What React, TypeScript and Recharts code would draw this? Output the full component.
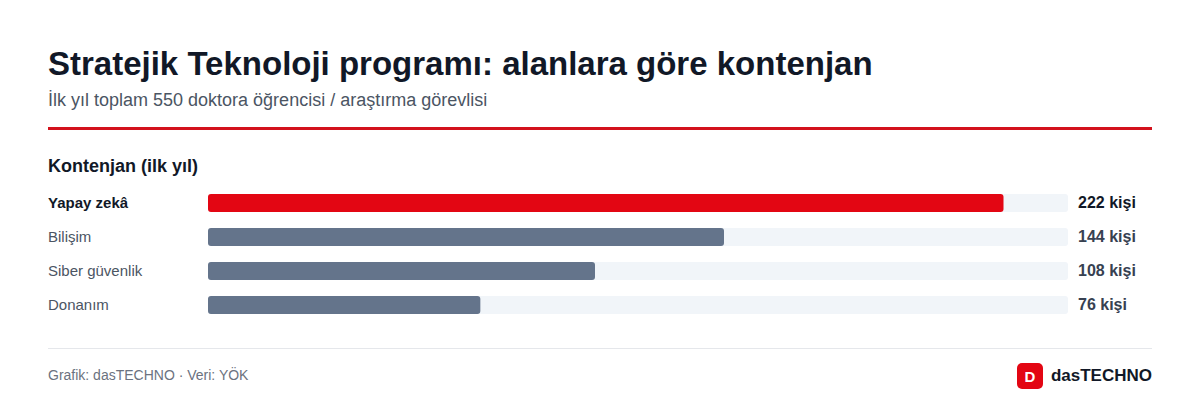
import React from "react"
import { BarChart, Bar, XAxis, YAxis, Cell } from "recharts"

const categories = ["Yapay zekâ", "Bilişim", "Siber güvenlik", "Donanım"]
const quotas = [222, 144, 108, 76]
const valueLabels = ["222 kişi", "144 kişi", "108 kişi", "76 kişi"]
const xDomain = [0, 240]

const data = categories.map((name, i) => ({
  name,
  value: quotas[i],
  label: valueLabels[i],
}))

const FONT = '"Liberation Sans", Arial, Helvetica, sans-serif'
const RED = "#e30613"
const SLATE = "#64748b"

function LeftTick(props: any) {
  const { y, payload } = props
  const first = payload.index === 0
  return (
    <text
      x={0}
      y={y}
      dy={5}
      textAnchor="start"
      fontFamily={FONT}
      fontSize={15}
      fontWeight={first ? 700 : 400}
      fill={first ? "#111827" : "#4b5563"}
    >
      {payload.value}
    </text>
  )
}

function RightTick(props: any) {
  const { x, y, payload } = props
  const first = payload.index === 0
  return (
    <text
      x={x}
      y={y}
      dy={5}
      textAnchor="start"
      fontFamily={FONT}
      fontSize={16}
      fontWeight={700}
      fill={first ? "#111827" : "#374151"}
    >
      {payload.value}
    </text>
  )
}

export default function App() {
  return (
    <div
      style={{
        position: "absolute",
        left: 0,
        top: 0,
        width: 1200,
        height: 420,
        background: "#fff",
        fontFamily: FONT,
        overflow: "hidden",
      }}
    >
      <div
        style={{
          position: "absolute",
          left: 48,
          top: 45,
          fontSize: 33,
          fontWeight: 700,
          color: "#111827",
          whiteSpace: "nowrap",
        }}
      >
        Stratejik Teknoloji programı: alanlara göre kontenjan
      </div>
      <div
        style={{
          position: "absolute",
          left: 48,
          top: 90,
          fontSize: 18,
          color: "#4b5563",
          whiteSpace: "nowrap",
        }}
      >
        İlk yıl toplam 550 doktora öğrencisi / araştırma görevlisi
      </div>
      <div
        style={{
          position: "absolute",
          left: 48,
          top: 127,
          width: 1104,
          height: 3,
          background: "#d3121c",
        }}
      />
      <div
        style={{
          position: "absolute",
          left: 48,
          top: 156,
          fontSize: 18,
          fontWeight: 700,
          color: "#111827",
          whiteSpace: "nowrap",
        }}
      >
        Kontenjan (ilk yıl)
      </div>

      <div style={{ position: "absolute", left: 48, top: 186 }}>
        <BarChart
          width={1104}
          height={136}
          data={data}
          layout="vertical"
          margin={{ top: 0, right: 0, bottom: 0, left: 0 }}
          barSize={18}
        >
          <XAxis type="number" domain={xDomain} hide />
          <YAxis
            yAxisId="left"
            type="category"
            dataKey="name"
            width={160}
            axisLine={false}
            tickLine={false}
            tick={<LeftTick />}
            interval={0}
          />
          <YAxis
            yAxisId="right"
            orientation="right"
            type="category"
            dataKey="label"
            width={84}
            axisLine={false}
            tickLine={false}
            tickSize={0}
            tickMargin={10}
            tick={<RightTick />}
            interval={0}
          />
          <Bar
            yAxisId="left"
            dataKey="value"
            radius={3}
            background={{ fill: "#f1f5f9", radius: 3 }}
            isAnimationActive={false}
          >
            {data.map((d, i) => (
              <Cell key={d.name} fill={i === 0 ? RED : SLATE} />
            ))}
          </Bar>
        </BarChart>
      </div>

      <div
        style={{
          position: "absolute",
          left: 48,
          top: 348,
          width: 1104,
          height: 1,
          background: "#e5e7eb",
        }}
      />
      <div
        style={{
          position: "absolute",
          left: 48,
          top: 367,
          fontSize: 14,
          color: "#6b7280",
          whiteSpace: "nowrap",
        }}
      >
        Grafik: dasTECHNO · Veri: YÖK
      </div>
      <div
        style={{
          position: "absolute",
          right: 48,
          top: 363,
          display: "flex",
          alignItems: "center",
          gap: 8,
        }}
      >
        <div
          style={{
            width: 26,
            height: 26,
            borderRadius: 5,
            background: RED,
            color: "#fff",
            fontSize: 15,
            fontWeight: 700,
            display: "flex",
            alignItems: "center",
            justifyContent: "center",
          }}
        >
          D
        </div>
        <div style={{ fontSize: 17, fontWeight: 700, color: "#111827" }}>
          dasTECHNO
        </div>
      </div>
    </div>
  )
}
